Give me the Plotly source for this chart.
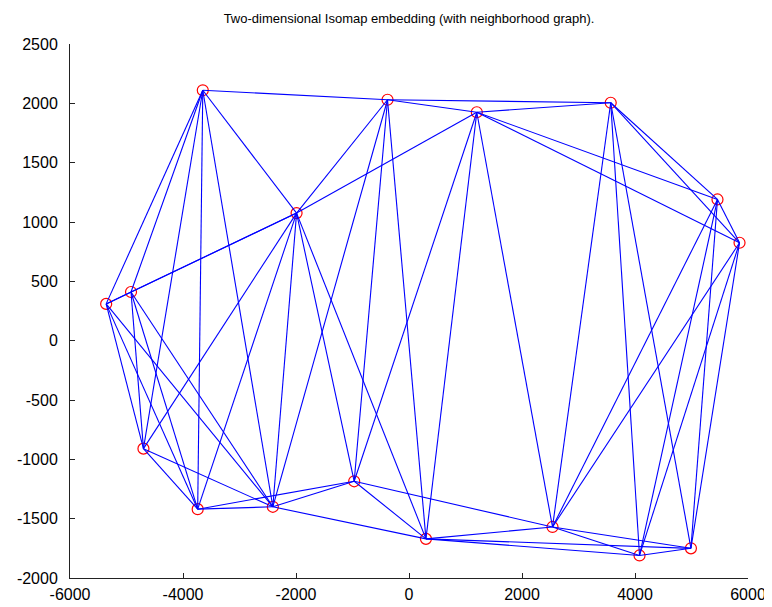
import plotly.graph_objects as go

# Node labels and 2-D embedding coordinates
node_names = ["A", "B", "C", "D", "E", "F", "G", "H", "I",
              "J", "K", "L", "M", "N", "O", "P", "Q"]
node_x = [-3650, -380, 1200, 3570, 5460, 5850, -1990, -4920, -5360,
          -4700, -3740, -2410, -970, 300, 2540, 4080, 4990]
node_y = [2110, 2030, 1925, 2005, 1190, 825, 1075, 410, 310,
          -910, -1420, -1400, -1185, -1670, -1570, -1810, -1750]

# Neighborhood graph edges
edge_from = ["A", "A", "A", "A", "A", "A", "A",
             "B", "B", "B", "B", "B", "B",
             "C", "C", "C", "C", "C", "C", "C",
             "D", "D", "D", "D", "D",
             "E", "E", "E", "E",
             "F", "F", "F",
             "G", "G", "G", "G", "G", "G", "G",
             "H", "H", "H", "H",
             "I", "I", "I",
             "J", "J",
             "K", "K",
             "L", "L",
             "M", "M",
             "N", "N", "N",
             "O", "O",
             "P"]
edge_to = ["B", "G", "H", "I", "J", "K", "L",
           "C", "D", "G", "L", "M", "N",
           "D", "E", "F", "G", "M", "N", "O",
           "E", "F", "O", "P", "Q",
           "F", "O", "P", "Q",
           "O", "P", "Q",
           "H", "I", "J", "K", "L", "M", "N",
           "I", "J", "K", "L",
           "J", "K", "L",
           "K", "L",
           "L", "M",
           "M", "N",
           "N", "O",
           "O", "P", "Q",
           "P", "Q",
           "Q"]

x_ticks = [-6000, -4000, -2000, 0, 2000, 4000, 6000]
y_ticks = [-2000, -1500, -1000, -500, 0, 500, 1000, 1500, 2000, 2500]

idx = {n: i for i, n in enumerate(node_names)}
ex, ey = [], []
for a, b in zip(edge_from, edge_to):
    ex += [node_x[idx[a]], node_x[idx[b]], None]
    ey += [node_y[idx[a]], node_y[idx[b]], None]

fig = go.Figure()
fig.add_trace(go.Scatter(
    x=node_x, y=node_y, mode="markers",
    marker=dict(symbol="circle-open", size=11, color="#ff0000",
                line=dict(width=1.2, color="#ff0000")),
    hoverinfo="skip", showlegend=False))
fig.add_trace(go.Scatter(
    x=ex, y=ey, mode="lines",
    line=dict(color="#0000ff", width=1.1),
    hoverinfo="skip", showlegend=False))

font_family = "Liberation Sans Narrow, Liberation Sans, Arial, sans-serif"
# page body has an 8px margin, so the figure is offset by 8px
W, H = 764, 599
fig.update_layout(
    width=W, height=H,
    paper_bgcolor="white", plot_bgcolor="white",
    margin=dict(l=62, r=24, t=36, b=28.5),
    title=dict(text="Two-dimensional Isomap embedding (with neighborhood graph).",
               x=0.5, xref="paper", xanchor="center",
               y=1 - 10 / H, yref="container", yanchor="middle",
               font=dict(family=font_family, size=13, color="black")),
    font=dict(family=font_family, size=16, color="black"),
)
fig.update_xaxes(range=[-6000, 6000], tickvals=x_ticks,
                 ticktext=[str(v) for v in x_ticks],
                 showgrid=False, zeroline=False, showline=True,
                 linecolor="#222222", linewidth=1, ticks="inside",
                 ticklen=5, tickcolor="#222222", mirror=False,
                 ticklabelstandoff=2, automargin=False)
fig.update_yaxes(range=[-2000, 2500], tickvals=y_ticks,
                 ticktext=[str(v) for v in y_ticks],
                 showgrid=False, zeroline=False, showline=True,
                 linecolor="#222222", linewidth=1, ticks="inside",
                 ticklen=5, tickcolor="#222222", mirror=False,
                 ticklabelstandoff=8, automargin=False)

fig.write_html("out.html")
